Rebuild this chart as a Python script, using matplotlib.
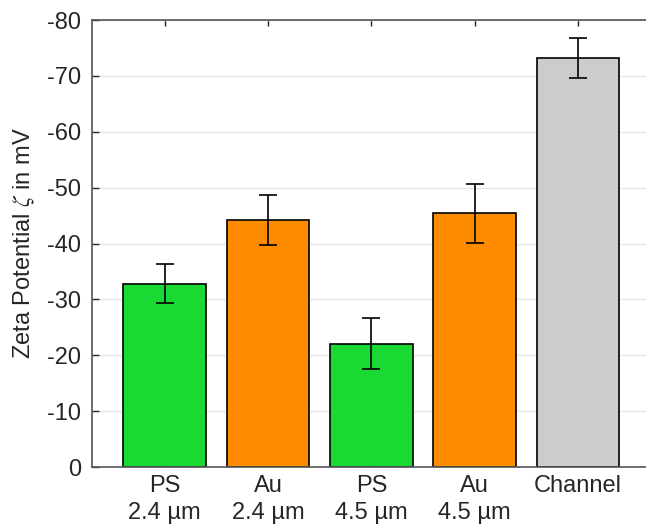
import numpy as np
import matplotlib.pyplot as plt

plt.rcParams['font.family'] = ['Liberation Sans', 'DejaVu Sans']
plt.rcParams['mathtext.fontset'] = 'stix'

labels = ['PS\n2.4 µm', 'Au\n2.4 µm', 'PS\n4.5 µm', 'Au\n4.5 µm', 'Channel']
zeta = [-32.8, -44.2, -22.1, -45.4, -73.2]   # mV
err = [3.45, 4.5, 4.6, 5.25, 3.55]
colors = ['#1ad932', '#ff8c00', '#1ad932', '#ff8c00', '#cccccc']

axcol = '#262626'
fs = 17

fig = plt.figure(figsize=(6.46, 5.28), dpi=100)
ax = fig.add_axes([92.3/646, 61/528, 567.7/646, 447/528])

x = np.arange(1, len(zeta)+1)
ax.bar(x, zeta, width=0.8, color=colors, edgecolor='black', linewidth=1.2, zorder=2)
ax.errorbar(x, zeta, yerr=err, fmt='none', ecolor='black', elinewidth=1.2,
            capsize=6.5, capthick=1.2, zorder=3)

ax.set_xlim(0.3, 5.793)
ax.set_ylim(0, -80)
ax.set_yticks(np.arange(0, -81, -10))
ax.set_yticklabels(['%d' % v if v == 0 else '-%d' % abs(v) for v in np.arange(0, -81, -10)])
ax.set_xticks(x)
ax.set_xticklabels(labels, linespacing=1.3)

ax.grid(axis='y', color='#e6e6e6', linewidth=1, zorder=0)
ax.set_axisbelow(True)
ax.tick_params(direction='in', length=5, width=1, colors=axcol, labelsize=fs,
               top=True, right=True, pad=8)
ax.tick_params(axis='x', length=4, pad=6)
ax.tick_params(axis='y', right=False)
for s in ax.spines.values():
    s.set_color('#555555')
    s.set_linewidth(1.2)

ax.set_ylabel(r'Zeta Potential $\zeta$ in mV', fontsize=fs, color=axcol, labelpad=7)

plt.savefig('out.png', dpi=100)
